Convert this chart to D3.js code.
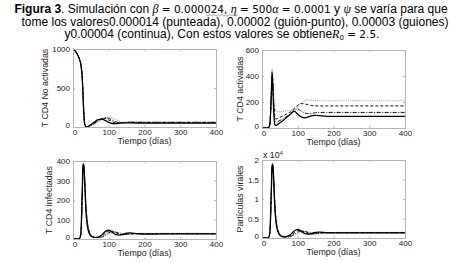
<!DOCTYPE html>
<html>
<head>
<meta charset="utf-8">
<script src="https://cdn.jsdelivr.net/npm/d3@7"></script>
<style>
  body { margin: 0; background: #fff; }
  svg { display: block; font-family: "Liberation Sans", Arial, sans-serif; }
  .tick text { font-size: 8px; fill: #222; }
  .label { font-size: 8.8px; fill: #222; }
</style>
</head>
<body>
<div id="chart"></div>
<script>
// time grid (days) shared by every series
const tiempo = [0, 10, 18, 22, 26, 28, 30, 33, 36, 40, 45, 50, 60, 70, 80, 90, 100, 110, 120, 130, 140, 150, 160, 180, 200, 250, 300, 400];

// T CD4 no activadas
const noActContinua = [1000, 950, 870, 800, 620, 420, 200, 30, 5, 5, 15, 30, 65, 95, 100, 85, 60, 45, 42, 48, 53, 54, 52, 50, 50, 50, 50, 50];
const noActGuiones  = [1000, 950, 870, 800, 620, 420, 200, 30, 5, 5, 12, 25, 55, 85, 105, 110, 90, 68, 52, 50, 55, 60, 60, 57, 56, 56, 56, 56];
const noActGuionPto = [1000, 950, 870, 800, 620, 420, 200, 30, 5, 5, 10, 20, 45, 75, 100, 118, 110, 88, 65, 55, 55, 58, 62, 61, 60, 60, 60, 60];
const noActPunteada = [1000, 950, 870, 800, 620, 420, 200, 30, 5, 5, 8, 15, 38, 65, 95, 120, 128, 115, 92, 72, 62, 60, 64, 66, 65, 65, 65, 65];

// T CD4 activadas
const actContinua = [0, 0, 2, 30, 250, 400, 330, 120, 25, 20, 30, 40, 60, 85, 108, 130, 105, 85, 78, 85, 95, 97, 95, 90, 90, 90, 90, 90];
const actGuiones  = [0, 0, 2, 30, 260, 435, 380, 190, 90, 70, 75, 82, 95, 110, 125, 150, 175, 188, 185, 178, 172, 170, 170, 170, 170, 170, 170, 170];
const actGuionPto = [0, 0, 2, 30, 250, 420, 360, 160, 60, 45, 50, 58, 72, 90, 110, 135, 145, 130, 115, 110, 112, 118, 120, 120, 120, 120, 120, 120];
const actPunteada = [0, 0, 2, 30, 270, 460, 420, 250, 150, 130, 125, 125, 128, 132, 138, 145, 165, 190, 210, 215, 212, 210, 210, 210, 210, 210, 210, 210];

// T CD4 infectadas
const infContinua = [0, 0, 2, 30, 250, 380, 385, 280, 150, 70, 30, 15, 8, 10, 20, 38, 45, 35, 22, 20, 25, 30, 31, 27, 25, 26, 26, 26];
const infGuiones  = [0, 0, 2, 28, 240, 370, 380, 290, 165, 80, 35, 18, 8, 8, 14, 28, 40, 40, 32, 25, 22, 24, 27, 28, 27, 27, 27, 27];
const infGuionPto = [0, 0, 2, 25, 230, 360, 375, 300, 175, 90, 40, 20, 8, 7, 10, 20, 32, 38, 35, 28, 24, 23, 25, 28, 28, 28, 28, 28];
const infPunteada = [0, 0, 2, 22, 220, 345, 365, 305, 190, 100, 45, 22, 9, 6, 8, 14, 24, 32, 35, 32, 27, 25, 25, 28, 29, 29, 29, 29];

// Particulas virales
const virContinua = [0, 0, 50, 1500, 12000, 18500, 19000, 14000, 7500, 3500, 1500, 700, 300, 400, 900, 1800, 2200, 1700, 1100, 1000, 1200, 1450, 1500, 1350, 1300, 1300, 1300, 1300];
const virGuiones  = [0, 0, 50, 1400, 11500, 18000, 18800, 14500, 8000, 3800, 1700, 800, 300, 300, 600, 1300, 1900, 1900, 1500, 1100, 1000, 1150, 1300, 1400, 1350, 1350, 1350, 1350];
const virGuionPto = [0, 0, 50, 1300, 11000, 17500, 18600, 15000, 8500, 4200, 1900, 900, 350, 250, 450, 900, 1500, 1800, 1700, 1400, 1150, 1100, 1200, 1350, 1400, 1400, 1400, 1400];
const virPunteada = [0, 0, 50, 1200, 10500, 17000, 18400, 15500, 9000, 4600, 2100, 1000, 400, 250, 350, 650, 1100, 1500, 1650, 1550, 1350, 1200, 1200, 1300, 1420, 1450, 1450, 1450];

const xTicks = [0, 100, 200, 300, 400];
const yTicksNoAct = [0, 500, 1000];
const yTicksAct = [0, 200, 400, 600];
const yTicksInf = [0, 100, 200, 300, 400];
const yTicksVir = [0, 5000, 10000, 15000, 20000];

const width = 452, height = 262;
const pw = 143, ph = 78;

const styles = [
  { stroke: "#aaa", dash: "1.2,1", w: 1.1 },      // punteada
  { stroke: "#111", dash: "4,1.5,1,1.5", w: 1 },  // guion-punto
  { stroke: "#111", dash: "3,2", w: 1 },          // guiones
  { stroke: "#000", dash: null, w: 1.3 }          // continua
];

const panels = [
  { left: 73, top: 49, ymax: 1000, yticks: yTicksNoAct, fmt: d => d, label: "T CD4 No activadas", lx: 48,
    series: [noActPunteada, noActGuionPto, noActGuiones, noActContinua] },
  { left: 262, top: 50, ymax: 600, yticks: yTicksAct, fmt: d => d, label: "T CD4 activadas", lx: 243,
    series: [actPunteada, actGuionPto, actGuiones, actContinua] },
  { left: 73, top: 161, ymax: 400, yticks: yTicksInf, fmt: d => d, label: "T CD4 infectadas", lx: 52,
    series: [infPunteada, infGuionPto, infGuiones, infContinua] },
  { left: 262, top: 160, ymax: 20000, yticks: yTicksVir, fmt: d => d / 10000, label: "Partículas virales", lx: 243,
    series: [virPunteada, virGuionPto, virGuiones, virContinua], exp: true }
];

const svg = d3.select("#chart").append("svg")
  .attr("width", width)
  .attr("height", height);

// caption
const cap = svg.append("text")
  .attr("text-anchor", "middle")
  .attr("font-size", 12)
  .attr("fill", "#000");

const l1 = cap.append("tspan").attr("x", 231).attr("y", 13);
l1.append("tspan").attr("font-weight", "bold").text("Figura 3");
l1.append("tspan").text(". Simulación con ");
l1.append("tspan").attr("font-family", "Liberation Serif").attr("font-style", "italic").text("β");
l1.append("tspan").attr("font-family", "DejaVu Sans").attr("font-size", 10.5).text(" =  0.000024");
l1.append("tspan").attr("font-family", "DejaVu Sans").attr("font-size", 10.5).text(", ");
l1.append("tspan").attr("font-family", "Liberation Serif").attr("font-style", "italic").text("η");
l1.append("tspan").attr("font-family", "DejaVu Sans").attr("font-size", 10.5).text(" = 500");
l1.append("tspan").attr("font-family", "Liberation Serif").attr("font-style", "italic").text("α");
l1.append("tspan").attr("font-family", "DejaVu Sans").attr("font-size", 10.5).text(" = 0.0001");
l1.append("tspan").text(" y ");
l1.append("tspan").attr("font-family", "Liberation Serif").attr("font-style", "italic").text("ψ");
l1.append("tspan").text(" se varía para que");

cap.append("tspan").attr("x", 235).attr("y", 25.5)
  .text("tome los valores0.000014 (punteada), 0.00002 (guión-punto), 0.00003 (guiones)");

const l3 = cap.append("tspan").attr("x", 222).attr("y", 38);
l3.append("tspan").text("y0.00004 (continua), Con estos valores se obtiene");
l3.append("tspan").attr("font-family", "Liberation Serif").attr("font-style", "italic").text("R");
l3.append("tspan").attr("font-family", "DejaVu Sans").attr("font-size", 7).attr("dy", 2).text("0");
l3.append("tspan").attr("font-family", "DejaVu Sans").attr("font-size", 10.5).attr("dy", -2).text(" = 2.5.");

// spell-check squiggle under ", η = 500"
const sq = d3.range(0, 34, 2).map((d, i) => [206 + d, i % 2 ? 16 : 14.5]);
svg.append("path").attr("d", d3.line()(sq)).attr("fill", "none").attr("stroke", "#7a9a3a").attr("stroke-width", 0.7);

panels.forEach(p => {
  const x = d3.scaleLinear().domain([0, 400]).range([p.left, p.left + pw]);
  const y = d3.scaleLinear().domain([0, p.ymax]).range([p.top + ph, p.top]);
  const g = svg.append("g");

  const clipId = "clip" + p.left + p.top;
  g.append("clipPath").attr("id", clipId).append("rect")
    .attr("x", p.left).attr("y", p.top - 1).attr("width", pw).attr("height", ph + 1);

  const line = d3.line()
    .x((d, i) => x(tiempo[i]))
    .y(d => y(d))
    .curve(d3.curveMonotoneX);

  p.series.forEach((s, k) => {
    g.append("path")
      .datum(s)
      .attr("clip-path", "url(#" + clipId + ")")
      .attr("fill", "none")
      .attr("stroke", styles[k].stroke)
      .attr("stroke-width", styles[k].w)
      .attr("stroke-dasharray", styles[k].dash)
      .attr("d", line);
  });

  // axes, ticks inside like matlab
  const bottom = g.append("g").attr("transform", "translate(0," + (p.top + ph) + ")")
    .call(d3.axisBottom(x).tickValues(xTicks).tickSize(-2).tickPadding(2));
  const leftAx = g.append("g").attr("transform", "translate(" + p.left + ",0)")
    .call(d3.axisLeft(y).tickValues(p.yticks).tickSize(-2).tickPadding(3).tickFormat(p.fmt));
  g.append("g").attr("transform", "translate(0," + p.top + ")")
    .call(d3.axisTop(x).tickValues(xTicks).tickSize(-2).tickFormat(""));
  g.append("g").attr("transform", "translate(" + (p.left + pw) + ",0)")
    .call(d3.axisRight(y).tickValues(p.yticks).tickSize(-2).tickFormat(""));

  g.selectAll(".domain").attr("stroke", "#b5b5b5");
  g.selectAll(".tick line").attr("stroke", "#b5b5b5");
  bottom.selectAll(".tick").filter(d => d === 0).select("text").attr("dx", 1.5);
  leftAx.selectAll(".tick").filter(d => d === 0).select("text").attr("dy", "0.05em");

  g.append("text")
    .attr("class", "label")
    .attr("x", p.left + pw / 2)
    .attr("y", p.top + ph + 17)
    .attr("text-anchor", "middle")
    .text("Tiempo (días)");

  g.append("text")
    .attr("class", "label")
    .attr("transform", "translate(" + p.lx + "," + (p.top + ph / 2) + ") rotate(-90)")
    .attr("text-anchor", "middle")
    .text(p.label);

  if (p.exp) {
    const t = g.append("text").attr("class", "label").attr("font-size", 8)
      .attr("x", p.left + 1).attr("y", p.top - 2);
    t.append("tspan").text("x 10");
    t.append("tspan").attr("font-size", 5.5).attr("dy", -3).text("4");
  }
});
</script>
</body>
</html>
